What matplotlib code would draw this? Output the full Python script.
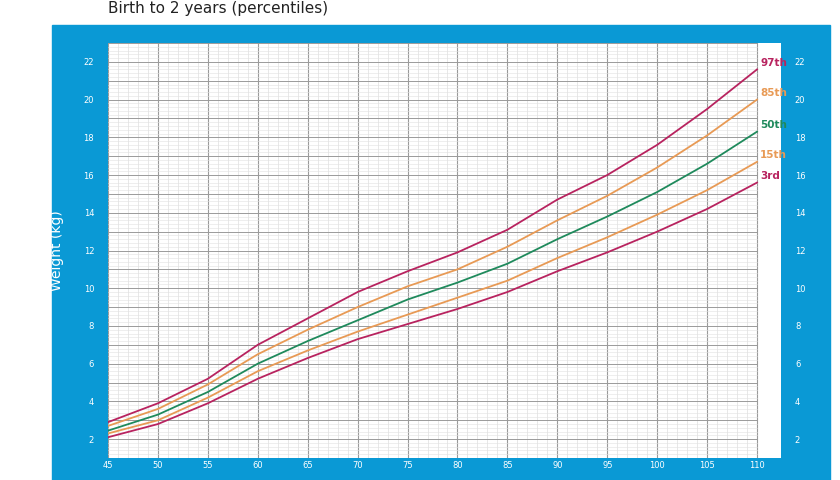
import numpy as np
import matplotlib.pyplot as plt
from matplotlib.patches import Rectangle

# Length (cm) and weight percentiles (kg)
length = [45, 50, 55, 60, 65, 70, 75, 80, 85, 90, 95, 100, 105, 110]
p3 = [2.1, 2.8, 3.9, 5.2, 6.3, 7.3, 8.1, 8.9, 9.8, 10.9, 11.9, 13.0, 14.2, 15.6]
p15 = [2.3, 3.0, 4.2, 5.6, 6.7, 7.7, 8.6, 9.5, 10.4, 11.6, 12.7, 13.9, 15.2, 16.7]
p50 = [2.45, 3.3, 4.5, 6.0, 7.2, 8.3, 9.4, 10.3, 11.3, 12.6, 13.8, 15.1, 16.6, 18.3]
p85 = [2.7, 3.6, 4.9, 6.5, 7.8, 9.0, 10.1, 11.0, 12.2, 13.6, 14.9, 16.4, 18.1, 20.0]
p97 = [2.9, 3.9, 5.2, 7.0, 8.4, 9.8, 10.9, 11.9, 13.1, 14.7, 16.0, 17.6, 19.5, 21.6]
labels = ["3rd", "15th", "50th", "85th", "97th"]

blue = "#0a99d5"
red = "#b8235f"
orange = "#e89a55"
green = "#1f8a5c"
colors = [red, orange, green, orange, red]

fig = plt.figure(figsize=(8.4, 4.8), dpi=100)
fig.patches.append(Rectangle((52 / 840, 0), 778 / 840, 1 - 25 / 480,
                             transform=fig.transFigure, color=blue, zorder=-10))
fig.text(108 / 840, 1 - 9 / 480, "Birth to 2 years (percentiles)",
         fontsize=11, va="center", ha="left", color="#222222")

ax = fig.add_axes([108 / 840, 22 / 480, 673 / 840, 415 / 480])
ax.set_facecolor("white")
ax.set_xlim(45, 112.4)
ax.set_ylim(1, 23)

# grid drawn only up to length 110
for x in np.arange(45, 110.01, 1):
    major = x % 5 == 0
    ax.plot([x, x], [1, 23], color="#9a9a9a" if major else "#dedede",
            lw=0.8 if major else 0.5, zorder=1)
for y in np.arange(1, 23.01, 0.2):
    major = abs(y - round(y)) < 1e-6
    ax.plot([45, 110], [y, y], color="#9a9a9a" if major else "#e2e2e2",
            lw=0.7 if major else 0.4, zorder=1)

series = [p3, p15, p50, p85, p97]
for s, c, lab in zip(series, colors, labels):
    ax.plot(length, s, color=c, lw=1.3, zorder=3)
    ax.text(110.3, s[-1] + 0.35, lab, color=c, fontsize=7.5,
            fontweight="bold", va="center", ha="left", zorder=4)

for sp in ax.spines.values():
    sp.set_visible(False)

ax.set_xticks(range(45, 111, 5))
ax.set_yticks(range(2, 23, 2))
ax.tick_params(length=0, labelsize=6, colors="white", pad=3)
ax.tick_params(axis="x", pad=2)
ax.tick_params(axis="y", labelright=True, pad=10)
ax.set_ylabel("Weight (kg)", color="white", fontsize=10, labelpad=14)

fig.savefig("out.png", dpi=100)
